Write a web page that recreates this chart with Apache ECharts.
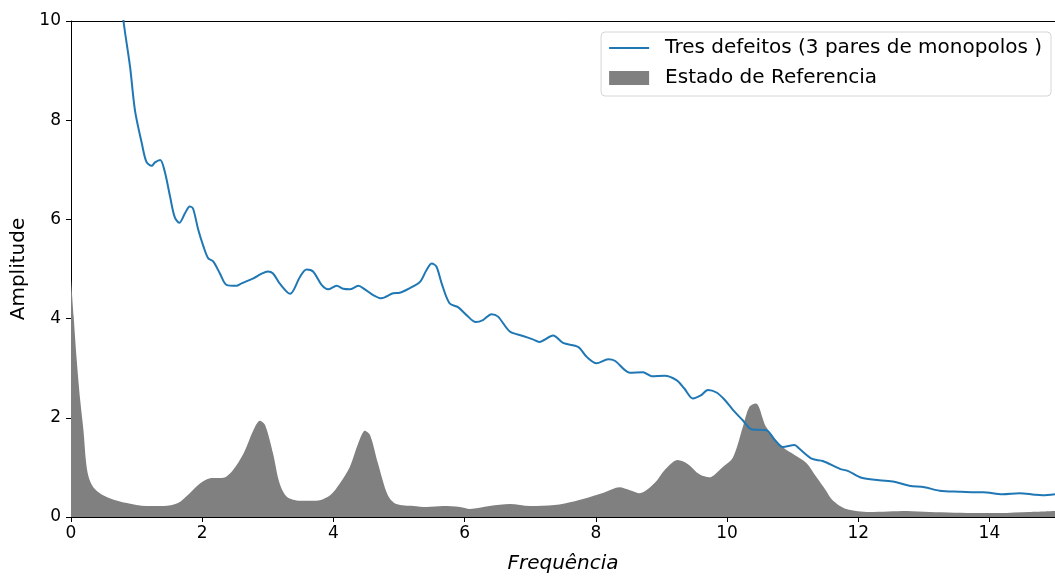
<!DOCTYPE html>
<html>
<head>
<meta charset="utf-8">
<script src="https://cdn.jsdelivr.net/npm/echarts@6/dist/echarts.min.js"></script>
<style>
  html, body { margin: 0; padding: 0; background: #fff; }
  #chart { width: 1055px; height: 576px; }
</style>
</head>
<body>
<div id="chart"></div>
<script>
// Spectrum with three defects (blue line)
const defectFreq = [0.74,0.80,0.90,0.975,1.08,1.15,1.23,1.28,1.36,1.43,1.51,1.58,1.65,1.74,1.81,1.86,1.94,2.02,2.09,2.17,2.27,2.37,2.52,2.60,2.78,2.90,3.00,3.08,3.18,3.34,3.49,3.59,3.69,3.82,3.92,4.05,4.15,4.25,4.38,4.48,4.60,4.73,4.91,5.01,5.16,5.32,5.42,5.50,5.57,5.65,5.77,5.90,6.03,6.17,6.28,6.41,6.51,6.69,6.89,7.04,7.14,7.35,7.50,7.73,7.86,8.01,8.19,8.29,8.52,8.72,8.85,9.05,9.23,9.35,9.48,9.60,9.71,9.84,9.96,10.09,10.24,10.37,10.60,10.73,10.85,11.03,11.10,11.30,11.46,11.72,11.84,12.05,12.32,12.55,12.78,13.01,13.24,13.54,13.77,13.90,14.20,14.46,14.69,14.81,15.00];
const defectAmp  = [10.8,10.0,9.08,8.20,7.53,7.16,7.08,7.15,7.20,6.96,6.46,6.05,5.93,6.13,6.26,6.22,5.79,5.45,5.22,5.15,4.91,4.68,4.66,4.71,4.81,4.90,4.95,4.91,4.71,4.50,4.84,4.99,4.95,4.68,4.59,4.66,4.60,4.59,4.66,4.59,4.48,4.41,4.51,4.52,4.61,4.74,4.98,5.11,5.05,4.71,4.31,4.23,4.07,3.93,3.97,4.09,4.04,3.74,3.65,3.58,3.53,3.66,3.51,3.43,3.23,3.10,3.18,3.15,2.91,2.92,2.84,2.85,2.76,2.59,2.39,2.45,2.56,2.51,2.37,2.16,1.95,1.77,1.75,1.55,1.41,1.45,1.38,1.17,1.13,0.97,0.93,0.79,0.74,0.71,0.63,0.60,0.53,0.51,0.50,0.50,0.46,0.48,0.45,0.44,0.46];

// Reference state spectrum (gray area)
const refFreq = [0.00,0.04,0.087,0.14,0.19,0.23,0.27,0.34,0.44,0.59,0.85,1.15,1.41,1.63,1.81,1.97,2.12,2.32,2.47,2.63,2.78,2.88,2.96,3.08,3.18,3.29,3.49,3.74,3.95,4.10,4.25,4.38,4.48,4.56,4.68,4.83,4.96,5.22,5.42,5.67,5.93,6.08,6.38,6.69,7.00,7.37,7.68,7.90,8.14,8.36,8.52,8.67,8.90,9.05,9.25,9.40,9.58,9.73,9.92,10.09,10.24,10.34,10.44,10.60,10.85,11.03,11.21,11.36,11.50,11.61,11.82,12.17,12.74,13.09,13.85,14.15,14.61,15.00];
const refAmp  = [4.80,4.05,3.17,2.36,1.75,1.10,0.80,0.60,0.48,0.38,0.28,0.22,0.22,0.28,0.48,0.68,0.78,0.79,0.95,1.28,1.75,1.94,1.85,1.28,0.68,0.41,0.33,0.33,0.44,0.68,1.01,1.49,1.74,1.65,1.08,0.44,0.26,0.22,0.20,0.22,0.20,0.16,0.22,0.26,0.22,0.24,0.32,0.40,0.50,0.60,0.54,0.48,0.69,0.95,1.15,1.07,0.86,0.80,0.99,1.20,1.81,2.22,2.29,1.81,1.41,1.25,1.09,0.81,0.55,0.34,0.16,0.10,0.12,0.10,0.08,0.08,0.10,0.12];

const xTicks = [0, 2, 4, 6, 8, 10, 12, 14];
const yTicks = [0, 2, 4, 6, 8, 10];

const defectName = 'Tres defeitos (3 pares de monopolos )';
const refName = 'Estado de Referencia';

const pairs = (xs, ys) => xs.map((x, i) => [x, ys[i]]);

const chart = echarts.init(document.getElementById('chart'), null, { renderer: 'canvas' });
const font = 'DejaVu Sans';

chart.setOption({
  animation: false,
  backgroundColor: '#ffffff',
  grid: { left: 71, top: 21, right: 0, bottom: 59, containLabel: false, outerBoundsMode: 'none' },
  legend: {
    orient: 'vertical',
    right: 4,
    top: 32,
    padding: [6, 9, 8, 8],
    itemWidth: 40,
    itemHeight: 14,
    itemGap: 10,
    symbolKeepAspect: true,
    borderColor: '#d6d6d6',
    borderWidth: 1,
    borderRadius: 4,
    backgroundColor: '#ffffff',
    textStyle: { fontFamily: font, fontSize: 20, color: '#000', padding: [0, 0, 0, 11] },
    data: [
      { name: defectName, icon: 'path://M0,0L40,0L40,2L0,2Z' },
      { name: refName, icon: 'rect' }
    ]
  },
  xAxis: [{
    type: 'value',
    min: 0, max: 15,
    name: 'Frequência',
    nameLocation: 'middle',
    nameGap: 37,
    nameTextStyle: { fontFamily: font, fontSize: 20, fontStyle: 'italic', color: '#000' },
    axisLine: { show: true, lineStyle: { color: '#000', width: 1 } },
    axisTick: { show: true, inside: false, length: 5, lineStyle: { color: '#000' }, customValues: xTicks },
    axisLabel: { fontFamily: font, fontSize: 17, color: '#000', margin: 8, customValues: xTicks },
    splitLine: { show: false }
  }, {
    type: 'value',
    position: 'top',
    min: 0, max: 15,
    axisLine: { show: true, onZero: false, lineStyle: { color: '#000', width: 1 } },
    axisTick: { show: false },
    axisLabel: { show: false },
    splitLine: { show: false }
  }],
  yAxis: [{
    type: 'value',
    min: 0, max: 10, interval: 2,
    name: 'Amplitude',
    nameLocation: 'middle',
    nameGap: 39,
    nameTextStyle: { fontFamily: font, fontSize: 20, color: '#000' },
    axisLine: { show: true, lineStyle: { color: '#000', width: 1 } },
    axisTick: { show: true, inside: false, length: 5, lineStyle: { color: '#000' }, customValues: yTicks },
    axisLabel: { fontFamily: font, fontSize: 17, color: '#000', margin: 10, customValues: yTicks },
    splitLine: { show: false }
  }],
  series: [
    {
      name: defectName,
      type: 'line',
      data: pairs(defectFreq, defectAmp),
      smooth: 0.3,
      symbol: 'none',
      clip: true,
      lineStyle: { color: '#1f77b4', width: 2 },
      itemStyle: { color: '#1f77b4' },
      z: 3
    },
    {
      name: refName,
      type: 'line',
      data: pairs(refFreq, refAmp),
      smooth: 0.3,
      symbol: 'none',
      clip: true,
      lineStyle: { width: 0, color: '#808080' },
      itemStyle: { color: '#808080' },
      areaStyle: { color: '#808080', opacity: 1 },
      z: 2
    }
  ]
});
</script>
</body>
</html>
